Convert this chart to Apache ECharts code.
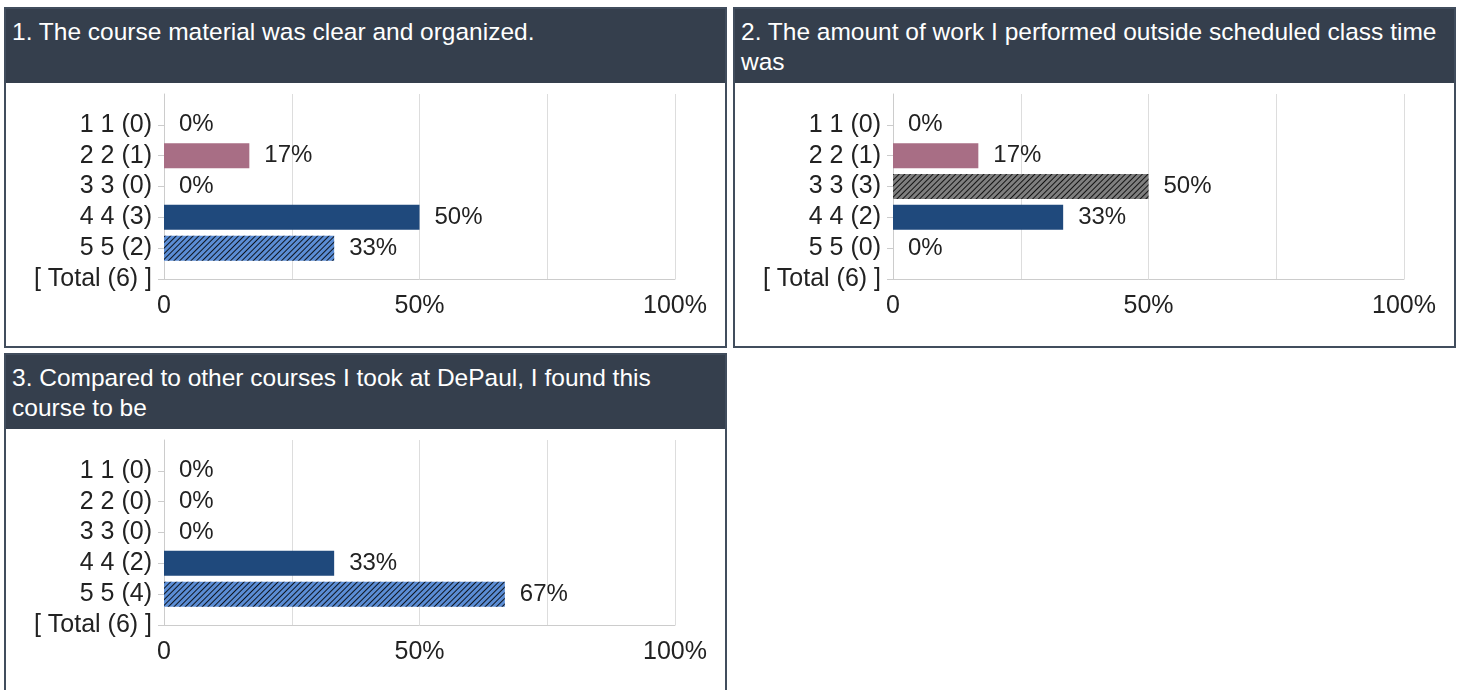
<!DOCTYPE html>
<html>
<head>
<meta charset="utf-8">
<title>Course evaluation</title>
<script src="https://cdn.jsdelivr.net/npm/echarts@6/dist/echarts.min.js"></script>
<style>
  body {
    margin: 0;
    background: #fff;
    font-family: Arial, 'Liberation Sans', sans-serif;
  }
  .panel {
    position: absolute;
    width: 723px;
    height: 341px;
    box-sizing: border-box;
    border: 2px solid #414d5d;
    background: #fff;
  }
  .head {
    height: 74px;
    box-sizing: border-box;
    padding: 8px 8px 0 6px;
    background: #353f4d;
    color: #fff;
    font-size: 24.5px;
    line-height: 30px;
  }
  .chart {
    width: 719px;
    height: 263px;
  }
</style>
</head>
<body>
<div class="panel" style="left:4px;top:7px">
  <div class="head">1. The course material was clear and organized.</div>
  <div class="chart" id="q1"></div>
</div>
<div class="panel" style="left:733px;top:7px">
  <div class="head">2. The amount of work I performed outside scheduled class time was</div>
  <div class="chart" id="q2"></div>
</div>
<div class="panel" style="left:4px;top:353px">
  <div class="head">3. Compared to other courses I took at DePaul, I found this course to be</div>
  <div class="chart" id="q3"></div>
</div>
<script>
// answer labels (rating, rating, count) and percent of responses
var q1Labels = ['1 1 (0)', '2 2 (1)', '3 3 (0)', '4 4 (3)', '5 5 (2)', '[ Total (6) ]']
var q1Values = [0, 16.7, 0, 50, 33.3]

var q2Labels = ['1 1 (0)', '2 2 (1)', '3 3 (3)', '4 4 (2)', '5 5 (0)', '[ Total (6) ]']
var q2Values = [0, 16.7, 50, 33.3, 0]

var q3Labels = ['1 1 (0)', '2 2 (0)', '3 3 (0)', '4 4 (2)', '5 5 (4)', '[ Total (6) ]']
var q3Values = [0, 0, 0, 33.3, 66.7]

var xTicks = [0, 25, 50, 75, 100]

// one colour per rating, hatched ones get a decal
var barColors = ['#8a8a8a', '#a86e85', '#7f7f7f', '#1f497c', '#5b8dd5']
var hatched = [false, false, true, false, true]

var hatch = {
  symbol: 'rect',
  symbolSize: 1,
  dashArrayX: [1, 0],
  dashArrayY: [1, 2.6],
  rotation: -Math.PI / 4,
  color: 'rgba(0,0,0,0.85)'
}

const drawPanel = (id, labels, values) => {
  var myChart = echarts.init(document.getElementById(id))
  // empty slot on top so the first answer sits one step below the grid top
  var cats = [''].concat(labels)
  var data = [null]
  values.forEach(function (v, i) {
    var item = { value: v, itemStyle: { color: barColors[i] } }
    if (hatched[i]) item.itemStyle.decal = hatch
    data.push(item)
  })
  var option = {
    animation: false,
    grid: { left: 158, right: 50, top: 11, bottom: 67 },
    xAxis: {
      type: 'value',
      min: xTicks[0],
      max: xTicks[xTicks.length - 1],
      interval: 25,
      axisLine: { show: true, lineStyle: { color: '#cccccc' } },
      axisTick: { show: false },
      splitLine: { lineStyle: { color: '#dddddd' } },
      axisLabel: {
        fontSize: 25,
        color: '#222',
        fontFamily: 'Arial, Liberation Sans',
        margin: 15,
        formatter: function (v) {
          if (v === 0) return '0'
          return v % 50 === 0 ? v + '%' : ''
        }
      }
    },
    yAxis: {
      type: 'category',
      inverse: true,
      boundaryGap: false,
      data: cats,
      axisLine: { show: true, lineStyle: { color: '#cccccc' } },
      axisTick: {
        show: true,
        length: 6,
        interval: function (i) { return i > 0 },
        lineStyle: { color: '#cccccc' }
      },
      axisLabel: {
        interval: 0,
        fontSize: 25,
        color: '#222',
        fontFamily: 'Arial, Liberation Sans',
        margin: 12
      }
    },
    series: [
      {
        type: 'bar',
        barWidth: 25,
        data: data,
        label: {
          show: true,
          position: 'right',
          distance: 15,
          fontSize: 24,
          color: '#222',
          fontFamily: 'Arial, Liberation Sans',
          formatter: function (p) { return Math.round(p.value) + '%' }
        }
      }
    ]
  }
  myChart.setOption(option)
}

drawPanel('q1', q1Labels, q1Values)
drawPanel('q2', q2Labels, q2Values)
drawPanel('q3', q3Labels, q3Values)
</script>
</body>
</html>
